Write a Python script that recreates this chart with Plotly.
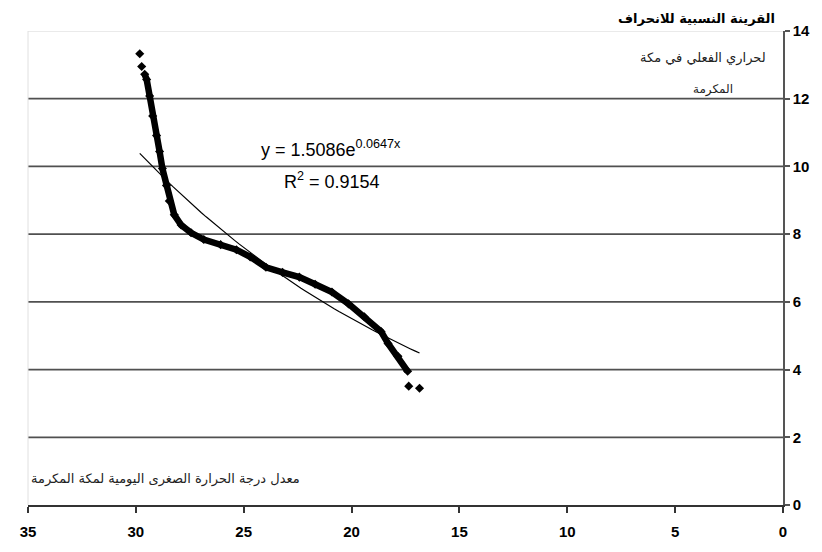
import numpy as np
import plotly.graph_objects as go

# Data
temp_x = [29.82, 29.73, 29.59, 29.50, 29.36, 29.22, 29.04, 28.90, 28.77, 28.58, 28.45,
          28.22, 27.90, 27.44, 26.85, 26.07, 25.34, 24.70, 23.97, 23.20, 22.42, 21.69,
          20.91, 20.14, 19.41, 18.63, 18.31, 17.85, 17.40, 17.35, 16.85]
index_y = [13.33, 12.95, 12.72, 12.57, 12.08, 11.49, 10.91, 10.44, 9.94, 9.44, 8.98,
           8.57, 8.27, 8.04, 7.84, 7.69, 7.54, 7.33, 7.02, 6.87, 6.73, 6.52,
           6.29, 5.94, 5.56, 5.12, 4.77, 4.39, 3.95, 3.51, 3.45]

fit_a = 1.5086
fit_b = 0.0647
fit_range = [29.82, 16.85]

x_ticks = [35, 30, 25, 20, 15, 10, 5, 0]
y_ticks = [0, 2, 4, 6, 8, 10, 12, 14]
grid_levels = [2, 4, 6, 8, 10, 12]

fig = go.Figure()

# dense band of points
fig.add_trace(go.Scatter(
    x=temp_x[2:-2], y=index_y[2:-2], mode="lines",
    line=dict(color="black", width=6.5), showlegend=False, hoverinfo="skip"))
fig.add_trace(go.Scatter(
    x=temp_x, y=index_y, mode="markers",
    marker=dict(symbol="diamond", size=7, color="black"), showlegend=False))

# exponential trendline
fx = np.linspace(fit_range[0], fit_range[1], 60)
fig.add_trace(go.Scatter(
    x=fx, y=fit_a * np.exp(fit_b * fx), mode="lines",
    line=dict(color="black", width=1.2), showlegend=False))

shapes = []
for g in grid_levels:
    shapes.append(dict(type="line", xref="paper", yref="y", x0=0, x1=1, y0=g, y1=g,
                       line=dict(color="#505050", width=1.7), layer="below"))
shapes.append(dict(type="line", xref="paper", yref="y", x0=0, x1=1, y0=14, y1=14,
                   line=dict(color="#d6d6d6", width=1), layer="below"))
shapes.append(dict(type="line", xref="paper", yref="paper", x0=0, x1=0, y0=0, y1=1,
                   line=dict(color="#e0e0e0", width=1), layer="below"))

ann = [
    dict(text="y = 1.5086e<sup>0.0647x</sup>", x=20.96, y=10.53, xref="x", yref="y",
         showarrow=False, font=dict(family="Liberation Sans, Arial", size=18, color="black")),
    dict(text="R<sup>2</sup> = 0.9154", x=20.9, y=9.59, xref="x", yref="y",
         showarrow=False, font=dict(family="Liberation Sans, Arial", size=18, color="black")),
    dict(text="<b>القرينة النسبية للانحراف</b>", x=0.992, y=1.027, xref="paper", yref="paper",
         xanchor="right", yanchor="middle", showarrow=False,
         font=dict(family="DejaVu Sans", size=13, color="black")),
    dict(text="لحراري الفعلي في مكة", x=0.68, y=13.19, xref="x", yref="y",
         xanchor="right", yanchor="middle", showarrow=False,
         font=dict(family="DejaVu Sans", size=13, color="#222")),
    dict(text="المكرمة", x=3.24, y=12.27, xref="x", yref="y",
         xanchor="center", yanchor="middle", showarrow=False,
         font=dict(family="DejaVu Sans", size=12, color="#222")),
    dict(text="معدل درجة الحرارة الصغرى اليومية لمكة المكرمة", x=22.28, y=0.76, xref="x", yref="y",
         xanchor="right", yanchor="middle", showarrow=False,
         font=dict(family="DejaVu Sans", size=13, color="#222")),
]

# page body has an 8px margin, so the figure is sized to fit the 822x552 window
fig.update_layout(
    width=814, height=544,
    margin=dict(l=14, r=34, t=23, b=42),
    paper_bgcolor="white", plot_bgcolor="white",
    shapes=shapes, annotations=ann,
    xaxis=dict(range=[35, 0], tickvals=x_ticks, ticktext=[str(v) for v in x_ticks],
               showgrid=False, zeroline=False, showline=True, linecolor="#333",
               linewidth=2, ticks="outside", ticklen=6, tickcolor="#333", tickwidth=1.5,
               ticklabelstandoff=6,
               tickfont=dict(family="Liberation Sans, Arial", size=15, color="black", weight="bold")),
    yaxis=dict(range=[0, 14], tickvals=y_ticks, side="right", showgrid=False, zeroline=False,
               showline=True, linecolor="#555", linewidth=1.5, ticks="outside", ticklen=5,
               tickcolor="#555", tickwidth=1.5,
               tickfont=dict(family="Liberation Sans, Arial", size=15, color="black", weight="bold")),
)

fig.write_html("out.html")
